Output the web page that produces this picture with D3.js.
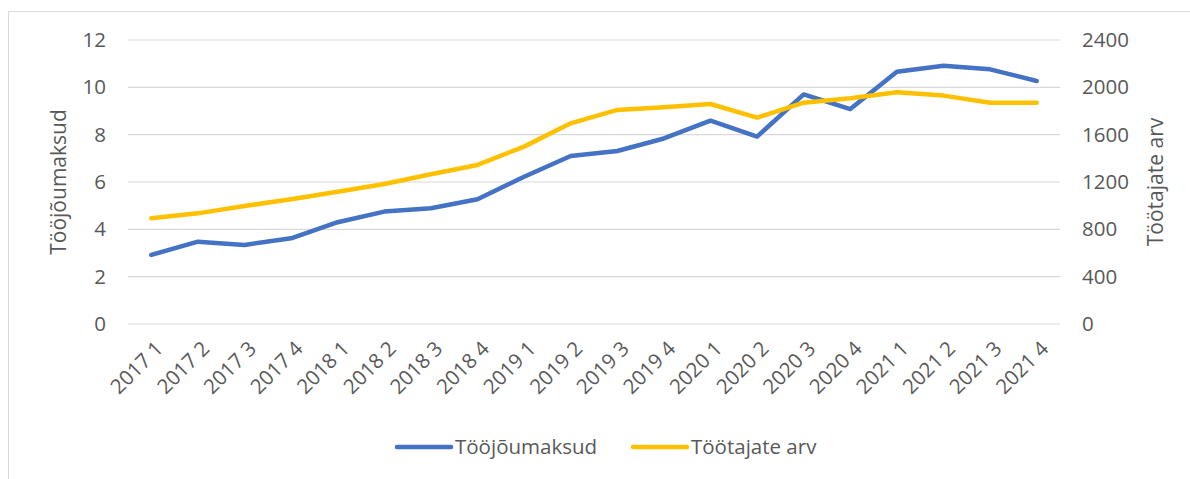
<!DOCTYPE html>
<html>
<head>
    <meta charset="utf-8">
    <title>Tööjõumaksud ja töötajate arv</title>
    <script src="https://d3js.org/d3.v7.min.js"></script>
    <style>
        body {
            margin: 0;
            background: #fff;
            font-family: 'Open Sans', 'Noto Sans', sans-serif;
        }
        text {
            fill: #595959;
        }
    </style>
</head>
<body>
    <div id="chart"></div>
    <script>
        // andmed (loetud pildilt)
        const quarters = ["2017 1", "2017 2", "2017 3", "2017 4", "2018 1", "2018 2", "2018 3", "2018 4",
            "2019 1", "2019 2", "2019 3", "2019 4", "2020 1", "2020 2", "2020 3", "2020 4",
            "2021 1", "2021 2", "2021 3", "2021 4"]
        const laborTaxes = [2.92, 3.48, 3.34, 3.62, 4.30, 4.75, 4.89, 5.27, 6.22, 7.10,
            7.31, 7.84, 8.59, 7.92, 9.70, 9.08, 10.66, 10.91, 10.76, 10.27]
        const employees = [893, 935, 997, 1054, 1118, 1183, 1265, 1344, 1499, 1696,
            1809, 1831, 1859, 1744, 1870, 1907, 1958, 1930, 1870, 1870]
        const leftTicks = [0, 2, 4, 6, 8, 10, 12]
        const rightTicks = [0, 400, 800, 1200, 1600, 2000, 2400]
        const seriesNames = ["Tööjõumaksud", "Töötajate arv"]

        const width = 1190, height = 479
        const margin = { top: 40, right: 130, bottom: 155, left: 128 }
        const fontSize = "20.5px"

        const svg = d3.select("#chart").append("svg")
            .attr("width", width)
            .attr("height", height)

        // raam
        svg.append("rect")
            .attr("x", 8.5).attr("y", 11.5)
            .attr("width", 1200).attr("height", 500)
            .attr("fill", "none")
            .attr("stroke", "#d9d9d9")

        const x = d3.scaleBand()
            .domain(quarters)
            .range([margin.left, width - margin.right])

        const yL = d3.scaleLinear().domain([0, 12]).range([height - margin.bottom, margin.top])
        const yR = d3.scaleLinear().domain([0, 2400]).range([height - margin.bottom, margin.top])

        // ruudujooned
        svg.append("g")
            .selectAll("line")
            .data(leftTicks)
            .join("line")
            .attr("x1", margin.left)
            .attr("x2", width - margin.right)
            .attr("y1", d => yL(d))
            .attr("y2", d => yL(d))
            .attr("stroke", "#d9d9d9")
            .attr("stroke-width", 1.2)

        // vasak telg
        svg.append("g")
            .attr("transform", `translate(${margin.left},0)`)
            .call(d3.axisLeft(yL).tickValues(leftTicks).tickSize(0).tickPadding(22))
            .call(g => g.select(".domain").remove())
            .selectAll("text")
            .style("font-size", fontSize)
            .style("font-family", "'Open Sans', sans-serif")
            .attr("fill", "#595959")

        // parem telg
        svg.append("g")
            .attr("transform", `translate(${width - margin.right},0)`)
            .call(d3.axisRight(yR).tickValues(rightTicks).tickFormat(d3.format("d")).tickSize(0).tickPadding(22))
            .call(g => g.select(".domain").remove())
            .selectAll("text")
            .style("font-size", fontSize)
            .style("font-family", "'Open Sans', sans-serif")
            .attr("fill", "#595959")

        // x telg
        svg.append("g")
            .attr("transform", `translate(0,${height - margin.bottom})`)
            .call(d3.axisBottom(x).tickSize(0).tickPadding(0))
            .call(g => g.select(".domain").remove())
            .selectAll("text")
            .style("font-size", fontSize)
            .style("font-family", "'Open Sans', sans-serif")
            .attr("fill", "#595959")
            .attr("text-anchor", "end")
            .attr("dy", 0)
            .attr("transform", "translate(13,26) rotate(-45)")

        // telgede pealkirjad
        svg.append("text")
            .attr("transform", `translate(66,${(yL(0) + yL(12)) / 2}) rotate(-90)`)
            .attr("text-anchor", "middle")
            .style("font-size", "21px")
            .text(seriesNames[0])

        svg.append("text")
            .attr("transform", `translate(1163,${(yL(0) + yL(12)) / 2}) rotate(-90)`)
            .attr("text-anchor", "middle")
            .style("font-size", "21px")
            .text(seriesNames[1])

        const cx = d => x(d) + x.bandwidth() / 2

        const lineL = d3.line()
            .x((d, i) => cx(quarters[i]))
            .y(d => yL(d))
        const lineR = d3.line()
            .x((d, i) => cx(quarters[i]))
            .y(d => yR(d))

        svg.append("path")
            .datum(laborTaxes)
            .attr("d", lineL)
            .attr("fill", "none")
            .attr("stroke", "#4472C4")
            .attr("stroke-width", 4.5)
            .attr("stroke-linecap", "round")
            .attr("stroke-linejoin", "round")

        svg.append("path")
            .datum(employees)
            .attr("d", lineR)
            .attr("fill", "none")
            .attr("stroke", "#FFC000")
            .attr("stroke-width", 4.5)
            .attr("stroke-linecap", "round")
            .attr("stroke-linejoin", "round")

        // legend
        const legendItems = [
            { name: seriesNames[0], color: "#4472C4", x: 397 },
            { name: seriesNames[1], color: "#FFC000", x: 633 }
        ]
        const lg = svg.append("g").attr("class", "legend")
        legendItems.forEach(it => {
            lg.append("line")
                .attr("x1", it.x).attr("x2", it.x + 54)
                .attr("y1", 447).attr("y2", 447)
                .attr("stroke", it.color)
                .attr("stroke-width", 4.5)
                .attr("stroke-linecap", "round")
            lg.append("text")
                .attr("x", it.x + 58)
                .attr("y", 447)
                .attr("dy", "0.35em")
                .style("font-size", fontSize)
                .text(it.name)
        })
    </script>
</body>
</html>
